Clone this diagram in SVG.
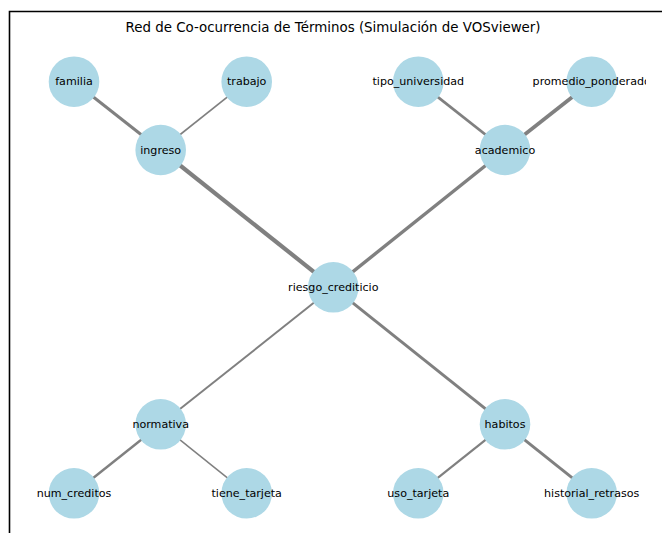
<svg xmlns="http://www.w3.org/2000/svg" width="662" height="533" viewBox="0 0 662 533">
<style>
.edge{stroke:#808080;stroke-linecap:butt;fill:none}
.node circle{fill:#add8e6}
.node text{font-family:"DejaVu Sans",sans-serif;font-size:11.1px;fill:#000;text-anchor:middle;dominant-baseline:central}
.title{font-family:"DejaVu Sans",sans-serif;font-size:13.4px;fill:#000;text-anchor:middle}
</style>
<defs><clipPath id="cut"><rect x="0" y="0" width="646" height="533"/></clipPath></defs>
<rect x="0" y="0" width="662" height="533" fill="#fff"/>
<path d="M9.5 540 V11.5 H670" fill="none" stroke="#000" stroke-width="1.6"/>
<text class="title" x="333" y="32">Red de Co-ocurrencia de Términos (Simulación de VOSviewer)</text>
<g id="connectors">
<line class="edge" x1="74" y1="81.7" x2="160.7" y2="150" stroke-width="3"/>
<line class="edge" x1="246.7" y1="81.7" x2="160.7" y2="150" stroke-width="1.6"/>
<line class="edge" x1="418.3" y1="81.7" x2="505" y2="150" stroke-width="2.8"/>
<line class="edge" x1="591.7" y1="81.7" x2="505" y2="150" stroke-width="3.8"/>
<line class="edge" x1="160.7" y1="150" x2="333.3" y2="287.3" stroke-width="4.2"/>
<line class="edge" x1="505" y1="150" x2="333.3" y2="287.3" stroke-width="3.4"/>
<line class="edge" x1="333.3" y1="287.3" x2="160.7" y2="424.3" stroke-width="2"/>
<line class="edge" x1="333.3" y1="287.3" x2="505" y2="424.3" stroke-width="3"/>
<line class="edge" x1="160.7" y1="424.3" x2="74" y2="493.3" stroke-width="2.4"/>
<line class="edge" x1="160.7" y1="424.3" x2="246.7" y2="493.3" stroke-width="1.5"/>
<line class="edge" x1="505" y1="424.3" x2="418.3" y2="493.3" stroke-width="2.2"/>
<line class="edge" x1="505" y1="424.3" x2="591.7" y2="493.3" stroke-width="3"/>
</g>
<g id="familia" class="node"><circle cx="74" cy="81.7" r="25.3"/><text x="74" y="81.7">familia</text></g>
<g id="trabajo" class="node"><circle cx="246.7" cy="81.7" r="25.3"/><text x="246.7" y="81.7">trabajo</text></g>
<g id="tipo_universidad" class="node"><circle cx="418.3" cy="81.7" r="25.3"/><text x="418.3" y="81.7">tipo_universidad</text></g>
<g id="promedio_ponderado" class="node"><circle cx="591.7" cy="81.7" r="25.3"/><text x="591.7" y="81.7" clip-path="url(#cut)">promedio_ponderado</text></g>
<g id="ingreso" class="node"><circle cx="160.7" cy="150" r="25.3"/><text x="160.7" y="150">ingreso</text></g>
<g id="academico" class="node"><circle cx="505" cy="150" r="25.3"/><text x="505" y="150">academico</text></g>
<g id="riesgo_crediticio" class="node"><circle cx="333.3" cy="287.3" r="25.3"/><text x="333.3" y="287.3">riesgo_crediticio</text></g>
<g id="normativa" class="node"><circle cx="160.7" cy="424.3" r="25.3"/><text x="160.7" y="424.3">normativa</text></g>
<g id="habitos" class="node"><circle cx="505" cy="424.3" r="25.3"/><text x="505" y="424.3">habitos</text></g>
<g id="num_creditos" class="node"><circle cx="74" cy="493.3" r="25.3"/><text x="74" y="493.3">num_creditos</text></g>
<g id="tiene_tarjeta" class="node"><circle cx="246.7" cy="493.3" r="25.3"/><text x="246.7" y="493.3">tiene_tarjeta</text></g>
<g id="uso_tarjeta" class="node"><circle cx="418.3" cy="493.3" r="25.3"/><text x="418.3" y="493.3">uso_tarjeta</text></g>
<g id="historial_retrasos" class="node"><circle cx="591.7" cy="493.3" r="25.3"/><text x="591.7" y="493.3">historial_retrasos</text></g>
</svg>
